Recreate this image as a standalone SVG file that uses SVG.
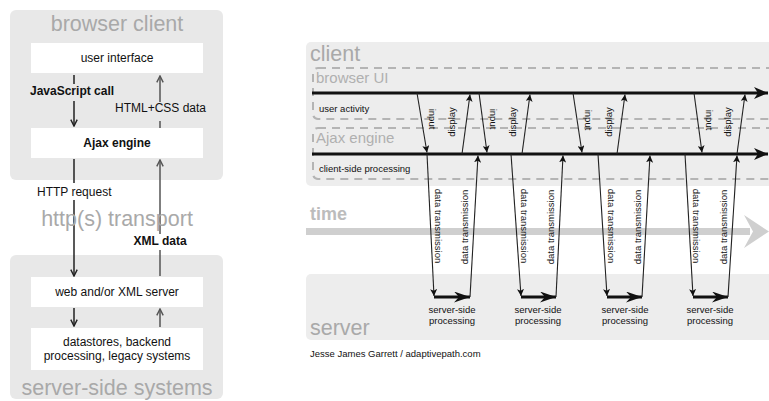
<svg xmlns="http://www.w3.org/2000/svg" width="769" height="401" viewBox="0 0 769 401">
<defs>
<style>
text{font-family:"Liberation Sans",Arial,sans-serif;}
.box{fill:#e8e8e8;}
.cbox{fill:#ededed;}
.wbox{fill:#ffffff;}
.big{font-size:21.5px;fill:#a9a9a9;}
.mid{font-size:15px;fill:#b0b0b0;}
.lbl{font-size:12px;fill:#111;}
.b{font-weight:bold;}
.sm{font-size:9.5px;fill:#111;}
.dash{fill:none;stroke:#b4b4b4;stroke-width:2;stroke-dasharray:8 6;}
.thin{fill:none;stroke:#222;stroke-width:1.1;}
.thick{fill:none;stroke:#111;stroke-width:3;}
.la{fill:none;stroke:#222;stroke-width:1.5;}
.lu{fill:none;stroke:#555;stroke-width:1.5;}
</style>
<marker id="tri" viewBox="0 0 10 10" refX="10" refY="5" markerWidth="7" markerHeight="7" markerUnits="userSpaceOnUse" orient="auto">
<path d="M0,0 L10,5 L0,10 L2.5,5 z" fill="#111"/>
</marker>
<marker id="vee" viewBox="0 0 10 10" refX="9" refY="5" markerWidth="8" markerHeight="8" markerUnits="userSpaceOnUse" orient="auto">
<path d="M1,1 L9,5 L1,9" fill="none" stroke="#222" stroke-width="1.8"/>
</marker>
<marker id="veeg" viewBox="0 0 10 10" refX="9" refY="5" markerWidth="8" markerHeight="8" markerUnits="userSpaceOnUse" orient="auto">
<path d="M1,1 L9,5 L1,9" fill="none" stroke="#555" stroke-width="1.8"/>
</marker>
<marker id="big" viewBox="0 0 14 12" refX="14" refY="6" markerWidth="14" markerHeight="12" markerUnits="userSpaceOnUse" orient="auto">
<path d="M0,0 L14,6 L0,12 L4,6 z" fill="#111"/>
</marker>
<marker id="sbig" viewBox="0 0 16 11" refX="16" refY="5.5" markerWidth="16" markerHeight="11" markerUnits="userSpaceOnUse" orient="auto">
<path d="M0,0 L16,5.5 L0,11 L5,5.5 z" fill="#111"/>
</marker>
</defs>

<!-- LEFT DIAGRAM -->
<g id="browser-client">
<rect class="box" x="10" y="10" width="213" height="170" rx="6"/>
<text class="big" x="117" y="31" text-anchor="middle">browser client</text>
</g>
<g id="user-interface">
<rect class="wbox" x="31" y="43" width="172" height="30"/>
<text class="lbl" x="117" y="62" text-anchor="middle">user interface</text>
</g>
<g id="ajax-engine-left">
<rect class="wbox" x="31" y="128" width="172" height="30"/>
<text class="lbl b" x="117" y="147" text-anchor="middle" font-size="12.5">Ajax engine</text>
</g>
<g id="server-side-systems">
<rect class="box" x="10" y="255" width="213" height="144" rx="6"/>
<text class="big" x="117" y="395" text-anchor="middle">server-side systems</text>
</g>
<g id="web-server">
<rect class="wbox" x="31" y="277" width="172" height="30"/>
<text class="lbl" x="117" y="296" text-anchor="middle">web and/or XML server</text>
</g>
<g id="datastores">
<rect class="wbox" x="31" y="328" width="172" height="42"/>
<text class="lbl" x="117" y="346" text-anchor="middle">datastores, backend</text>
<text class="lbl" x="117" y="360" text-anchor="middle">processing, legacy systems</text>
</g>

<g id="left-connectors">
<line class="la" x1="74" y1="75" x2="74" y2="84"/>
<line class="la" x1="74" y1="101" x2="74" y2="126" marker-end="url(#vee)"/>
<text class="lbl b" x="30" y="95">JavaScript call</text>
<line class="lu" x1="160" y1="128" x2="160" y2="121"/>
<line class="lu" x1="160" y1="102" x2="160" y2="76" marker-end="url(#veeg)"/>
<text class="lbl" x="115" y="112" font-size="11.5">HTML+CSS data</text>
<line class="la" x1="74" y1="159" x2="74" y2="183"/>
<text class="lbl" x="37" y="196" font-size="11.8">HTTP request</text>
<line class="la" x1="74" y1="200" x2="74" y2="276" marker-end="url(#vee)"/>
<line class="lu" x1="160" y1="276" x2="160" y2="250"/>
<text class="lbl b" x="160" y="245" text-anchor="middle">XML data</text>
<line class="lu" x1="160" y1="234" x2="160" y2="160" marker-end="url(#veeg)"/>
<line class="la" x1="74" y1="308" x2="74" y2="326" marker-end="url(#vee)"/>
<line class="lu" x1="160" y1="327" x2="160" y2="309" marker-end="url(#veeg)"/>
</g>
<g id="transport-label">
<text class="big" x="117" y="226" text-anchor="middle" font-size="22">http(s) transport</text>
</g>

<!-- RIGHT DIAGRAM -->
<g id="client">
<rect class="cbox" x="306" y="42" width="480" height="144" rx="5"/>
<text class="big" x="310" y="61" font-size="19">client</text>
</g>
<g id="browser-ui">
<rect class="dash" x="313" y="68" width="480" height="51" rx="5"/>
<text class="mid" x="316" y="83">browser UI</text>
<text class="sm" x="319" y="112">user activity</text>
</g>
<g id="ajax-engine">
<rect class="dash" x="313" y="128" width="480" height="51" rx="5"/>
<text class="mid" x="316" y="143">Ajax engine</text>
<text class="sm" x="319" y="172">client-side processing</text>
</g>
<g id="time">
<rect x="306" y="228" width="444" height="7" fill="#cfcfcf"/>
<polygon points="744,215 769,231.5 744,248 753,231.5" fill="#cfcfcf"/>
<text x="310" y="220" font-size="18" font-weight="bold" fill="#bcbcbc">time</text>
</g>
<g id="server">
<rect class="cbox" x="306" y="274" width="480" height="66" rx="5"/>
<text class="big" x="310" y="335" font-size="19">server</text>
</g>
<text class="sm" x="310" y="357">Jesse James Garrett / adaptivepath.com</text>

<g id="connectors">
<line class="thick" x1="312" y1="93" x2="768" y2="93" marker-end="url(#big)"/>
<line class="thick" x1="312" y1="154" x2="768" y2="154" marker-end="url(#big)"/>

<line class="thin" x1="417" y1="93" x2="427" y2="152.5" marker-end="url(#tri)"/>
<line class="thin" x1="462" y1="154" x2="470" y2="94.5" marker-end="url(#tri)"/>
<line class="thin" x1="479" y1="93" x2="487" y2="152.5" marker-end="url(#tri)"/>
<line class="thin" x1="522" y1="154" x2="530" y2="94.5" marker-end="url(#tri)"/>
<line class="thin" x1="573" y1="93" x2="582" y2="152.5" marker-end="url(#tri)"/>
<line class="thin" x1="617" y1="154" x2="625" y2="94.5" marker-end="url(#tri)"/>
<line class="thin" x1="694" y1="93" x2="702" y2="152.5" marker-end="url(#tri)"/>
<line class="thin" x1="737" y1="154" x2="745" y2="94.5" marker-end="url(#tri)"/>

<line class="thin" x1="427" y1="154" x2="434" y2="296" marker-end="url(#tri)"/>
<line class="thick" x1="434" y1="297" x2="470" y2="297" marker-end="url(#sbig)"/>
<line class="thin" x1="470" y1="297" x2="478" y2="155.5" marker-end="url(#tri)"/>

<line class="thin" x1="511" y1="154" x2="521" y2="296" marker-end="url(#tri)"/>
<line class="thick" x1="521" y1="297" x2="556" y2="297" marker-end="url(#sbig)"/>
<line class="thin" x1="556" y1="297" x2="563" y2="155.5" marker-end="url(#tri)"/>

<line class="thin" x1="598" y1="154" x2="607" y2="296" marker-end="url(#tri)"/>
<line class="thick" x1="607" y1="297" x2="642" y2="297" marker-end="url(#sbig)"/>
<line class="thin" x1="642" y1="297" x2="650" y2="155.5" marker-end="url(#tri)"/>

<line class="thin" x1="685" y1="154" x2="693" y2="296" marker-end="url(#tri)"/>
<line class="thick" x1="693" y1="297" x2="728" y2="297" marker-end="url(#sbig)"/>
<line class="thin" x1="728" y1="297" x2="737" y2="155.5" marker-end="url(#tri)"/>

<g class="sm" text-anchor="middle">
<text transform="translate(432,119) rotate(90)" y="3.4">input</text>
<text transform="translate(493,119) rotate(90)" y="3.4">input</text>
<text transform="translate(588,120) rotate(90)" y="3.4">input</text>
<text transform="translate(709,120) rotate(90)" y="3.4">input</text>
<text transform="translate(452,122) rotate(-90)" y="3.4">display</text>
<text transform="translate(513,122) rotate(-90)" y="3.4">display</text>
<text transform="translate(609,122) rotate(-90)" y="3.4">display</text>
<text transform="translate(728,122) rotate(-90)" y="3.4">display</text>

<text transform="translate(438,226) rotate(90)" y="3.4">data transmission</text>
<text transform="translate(524,226) rotate(90)" y="3.4">data transmission</text>
<text transform="translate(611,226) rotate(90)" y="3.4">data transmission</text>
<text transform="translate(696,226) rotate(90)" y="3.4">data transmission</text>
<text transform="translate(465,227) rotate(-90)" y="3.4">data transmission</text>
<text transform="translate(551,227) rotate(-90)" y="3.4">data transmission</text>
<text transform="translate(638,227) rotate(-90)" y="3.4">data transmission</text>
<text transform="translate(724,227) rotate(-90)" y="3.4">data transmission</text>

<text x="452" y="313">server-side</text>
<text x="452" y="324">processing</text>
<text x="538" y="313">server-side</text>
<text x="538" y="324">processing</text>
<text x="625" y="313">server-side</text>
<text x="625" y="324">processing</text>
<text x="710" y="313">server-side</text>
<text x="710" y="324">processing</text>
</g>
</g>
</svg>
